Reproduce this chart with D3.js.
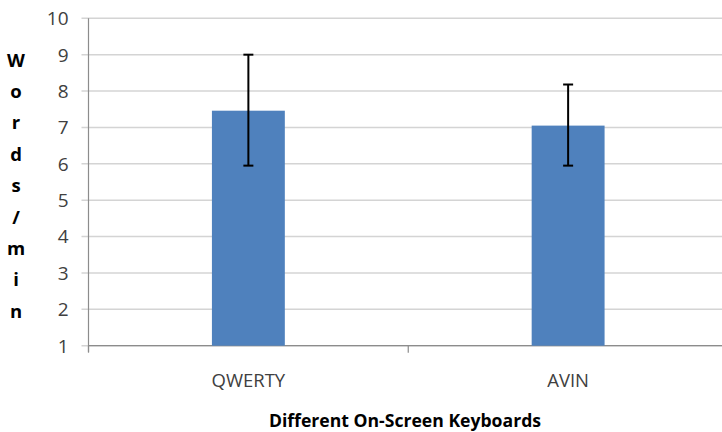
<!DOCTYPE html>
<html>
<head>
<meta charset="utf-8">
<script src="https://cdn.jsdelivr.net/npm/d3@7"></script>
<style>
  body { margin: 0; background: #fff; }
  svg { display: block; }
</style>
</head>
<body>
<svg id="chart"></svg>
<script>
// data
const keyboards = ['QWERTY', 'AVIN'];
const wordsPerMin = [7.46, 7.05];
const errHigh = [9.0, 8.18];
const errLow = [5.95, 5.95];
const yTicks = [1, 2, 3, 4, 5, 6, 7, 8, 9, 10];
const yTitle = 'Words/min';
const xTitle = 'Different On-Screen Keyboards';

const width = 722, height = 432;
const margin = { top: 18.3, right: -6, bottom: 86.3, left: 88.5 };
const innerW = width - margin.left - margin.right;
const innerH = height - margin.top - margin.bottom;
const font = "'Open Sans', 'Noto Sans', sans-serif";

const svg = d3.select('#chart')
  .attr('width', width)
  .attr('height', height);

const chart = svg.append('g')
  .attr('transform', `translate(${margin.left},${margin.top})`);

const xScale = d3.scaleBand()
  .domain(keyboards)
  .range([0, innerW])
  .paddingInner(0)
  .paddingOuter(0);

const yScale = d3.scaleLinear()
  .domain([1, 10])
  .range([innerH, 0]);

// gridlines
chart.selectAll('.grid')
  .data(yTicks)
  .join('line')
  .attr('class', 'grid')
  .attr('x1', -7)
  .attr('x2', innerW)
  .attr('y1', d => yScale(d))
  .attr('y2', d => yScale(d))
  .attr('stroke', '#d4d4d4')
  .attr('stroke-width', 1.5);

// y axis line
chart.append('line')
  .attr('x1', 0).attr('x2', 0)
  .attr('y1', 0).attr('y2', innerH + 6)
  .attr('stroke', '#8c8c8c')
  .attr('stroke-width', 1.2);

// y tick labels
chart.selectAll('.ylab')
  .data(yTicks)
  .join('text')
  .attr('class', 'ylab')
  .attr('x', -20)
  .attr('y', d => yScale(d))
  .attr('dy', '0.36em')
  .attr('text-anchor', 'end')
  .style('font-family', font)
  .style('font-size', '19px')
  .attr('fill', '#404040')
  .text(d => d);

// x axis line + boundary ticks
chart.append('line')
  .attr('x1', 0).attr('x2', innerW)
  .attr('y1', innerH).attr('y2', innerH)
  .attr('stroke', '#8c8c8c')
  .attr('stroke-width', 1.2);

const bounds = keyboards.map(k => xScale(k)).concat([innerW]);
chart.selectAll('.xtick')
  .data(bounds)
  .join('line')
  .attr('class', 'xtick')
  .attr('x1', d => d).attr('x2', d => d)
  .attr('y1', innerH).attr('y2', innerH + 7)
  .attr('stroke', '#8c8c8c')
  .attr('stroke-width', 1.2);

// bars
const barW = xScale.bandwidth() * 0.228;
chart.selectAll('.bar')
  .data(keyboards)
  .join('rect')
  .attr('class', 'bar')
  .attr('x', d => xScale(d) + xScale.bandwidth() / 2 - barW / 2)
  .attr('width', barW)
  .attr('y', (d, i) => yScale(wordsPerMin[i]))
  .attr('height', (d, i) => innerH - yScale(wordsPerMin[i]))
  .attr('fill', '#4f81bd');

// error bars
const capW = 10;
keyboards.forEach((k, i) => {
  const cx = xScale(k) + xScale.bandwidth() / 2;
  const g = chart.append('g')
    .attr('stroke', '#000')
    .attr('stroke-width', 2);
  g.append('line')
    .attr('x1', cx).attr('x2', cx)
    .attr('y1', yScale(errHigh[i])).attr('y2', yScale(errLow[i]));
  g.append('line')
    .attr('x1', cx - capW / 2).attr('x2', cx + capW / 2)
    .attr('y1', yScale(errHigh[i])).attr('y2', yScale(errHigh[i]));
  g.append('line')
    .attr('x1', cx - capW / 2).attr('x2', cx + capW / 2)
    .attr('y1', yScale(errLow[i])).attr('y2', yScale(errLow[i]));
});

// x category labels
chart.selectAll('.xlab')
  .data(keyboards)
  .join('text')
  .attr('class', 'xlab')
  .attr('x', d => xScale(d) + xScale.bandwidth() / 2)
  .attr('y', innerH + 41)
  .attr('text-anchor', 'middle')
  .style('font-family', font)
  .style('font-size', '18.5px')
  .attr('fill', '#404040')
  .text(d => d);

// x title
svg.append('text')
  .attr('x', 405)
  .attr('y', 427)
  .attr('text-anchor', 'middle')
  .style('font-family', font)
  .style('font-size', '17.6px')
  .style('font-weight', 'bold')
  .attr('fill', '#000')
  .text(xTitle);

// y title, letters stacked
svg.append('g')
  .selectAll('text')
  .data(yTitle.split(''))
  .join('text')
  .attr('x', 16)
  .attr('y', (d, i) => 60 + i * 31.4)
  .attr('dy', '0.36em')
  .attr('text-anchor', 'middle')
  .style('font-family', font)
  .style('font-size', '18.5px')
  .style('font-weight', 'bold')
  .attr('fill', '#000')
  .text(d => d);
</script>
</body>
</html>
